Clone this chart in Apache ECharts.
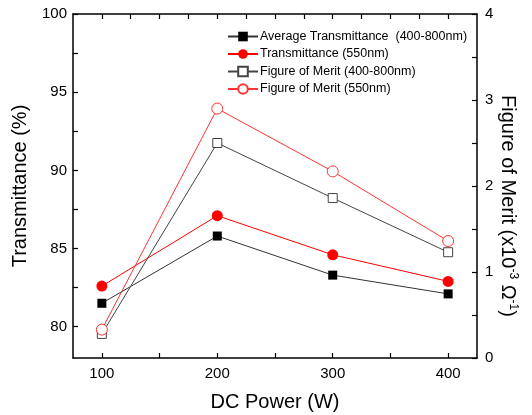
<!DOCTYPE html>
<html>
<head>
<meta charset="utf-8">
<script src="https://cdn.jsdelivr.net/npm/echarts@6/dist/echarts.min.js"></script>
<style>
  html, body { margin: 0; padding: 0; background: #fff; }
  #chart { width: 532px; height: 415px; }
</style>
</head>
<body>
<div id="chart"></div>
<script>
// DC power sweep — transmittance (left axis) and figure of merit (right axis)
const power = [100, 200, 300, 400];
const avgTrans = [81.5, 85.8, 83.3, 82.1];
const trans550 = [82.6, 87.1, 84.6, 82.9];
const fomAvg = [0.28, 2.5, 1.86, 1.23];
const fom550 = [0.33, 2.9, 2.17, 1.36];

const xLabels = [100, 200, 300, 400];
const xTicks = [100, 150, 200, 250, 300, 350, 400];
const xTopTicks = [100, 125, 150, 175, 200, 225, 250, 275, 300, 325, 350, 375, 400];
const leftLabels = [80, 85, 90, 95, 100];
const leftTicks = [80, 82.5, 85, 87.5, 90, 92.5, 95, 97.5, 100];

const font = "Liberation Sans, Arial, sans-serif";
const axisLine = { show: true, lineStyle: { color: "#000", width: 1.5 } };
const tickStyle = { color: "#000", width: 1.2 };

const pair = (arr) => power.map((p, i) => [p, arr[i]]);

const chart = echarts.init(document.getElementById("chart"), null, { renderer: "canvas" });
chart.setOption({
  animation: false,
  backgroundColor: "#fff",
  textStyle: { fontFamily: font },
  grid: { left: 73, right: 55, top: 14, bottom: 57, outerBoundsMode: "none" },
  legend: {
    orient: "vertical",
    left: 222, top: 25,
    itemWidth: 30, itemHeight: 12, itemGap: 4.5,
    textStyle: { fontSize: 12.5, color: "#000", fontFamily: font, padding: [0, 0, 0, -3] },
    data: ["Average Transmittance  (400-800nm)", "Transmittance (550nm)",
           "Figure of Merit (400-800nm)", "Figure of Merit (550nm)"],
  },
  xAxis: [{
    type: "value", min: 75, max: 425,
    name: "DC Power (W)", nameLocation: "middle", nameGap: 34,
    nameTextStyle: { fontSize: 20, color: "#000", fontFamily: font },
    axisLine,
    axisTick: { show: true, inside: true, length: 5, lineStyle: tickStyle, customValues: xTicks },
    axisLabel: { color: "#000", fontSize: 15, margin: 8, customValues: xLabels },
    splitLine: { show: false },
  }, {
    type: "value", min: 75, max: 425, position: "top",
    axisLine,
    axisTick: { show: true, inside: true, length: 5, lineStyle: tickStyle, customValues: xTopTicks },
    axisLabel: { show: false },
    splitLine: { show: false },
  }],
  yAxis: [{
    type: "value", min: 78, max: 100,
    name: "Transmittance (%)", nameLocation: "middle", nameGap: 43,
    nameTextStyle: { fontSize: 20, color: "#000", fontFamily: font },
    axisLine,
    axisTick: { show: true, inside: true, length: 5, lineStyle: tickStyle, customValues: leftTicks },
    axisLabel: { color: "#000", fontSize: 15, margin: 6, customValues: leftLabels },
    splitLine: { show: false },
  }, {
    type: "value", min: 0, max: 4, interval: 1, position: "right",
    name: "{n|Figure of Merit (x10}{s|-3}{n| Ω}{s|-1}{n|)}",
    nameLocation: "middle", nameRotate: -90, nameGap: 20, nameMoveOverlap: false,
    nameTextStyle: {
      color: "#000", fontFamily: font, padding: [0, 0, 0, 40],
      rich: {
        n: { fontSize: 20, color: "#000", fontFamily: font },
        s: { fontSize: 12, color: "#000", fontFamily: font, verticalAlign: "top", padding: [0, 0, 10, 0] },
      },
    },
    axisLine,
    axisTick: { show: true, inside: true, length: 5, lineStyle: tickStyle },
    minorTick: { show: true, splitNumber: 2, length: 5, lineStyle: tickStyle },
    axisLabel: { color: "#000", fontSize: 15, margin: 8 },
    splitLine: { show: false },
  }],
  series: [{
    name: "Average Transmittance  (400-800nm)", type: "line",
    data: pair(avgTrans), symbol: "rect", symbolSize: 9,
    lineStyle: { color: "#333", width: 1 },
    itemStyle: { color: "#000" },
  }, {
    name: "Transmittance (550nm)", type: "line",
    data: pair(trans550), symbol: "circle", symbolSize: 11,
    lineStyle: { color: "#f00", width: 1 },
    itemStyle: { color: "#f00" },
  }, {
    name: "Figure of Merit (400-800nm)", type: "line", yAxisIndex: 1,
    data: pair(fomAvg), symbol: "rect", symbolSize: 9,
    lineStyle: { color: "#444", width: 1 },
    itemStyle: { color: "#fff", borderColor: "#444", borderWidth: 1 },
  }, {
    name: "Figure of Merit (550nm)", type: "line", yAxisIndex: 1,
    data: pair(fom550), symbol: "circle", symbolSize: 11,
    lineStyle: { color: "#f33", width: 1 },
    itemStyle: { color: "#fff", borderColor: "#f33", borderWidth: 1 },
  }],
});
</script>
</body>
</html>
